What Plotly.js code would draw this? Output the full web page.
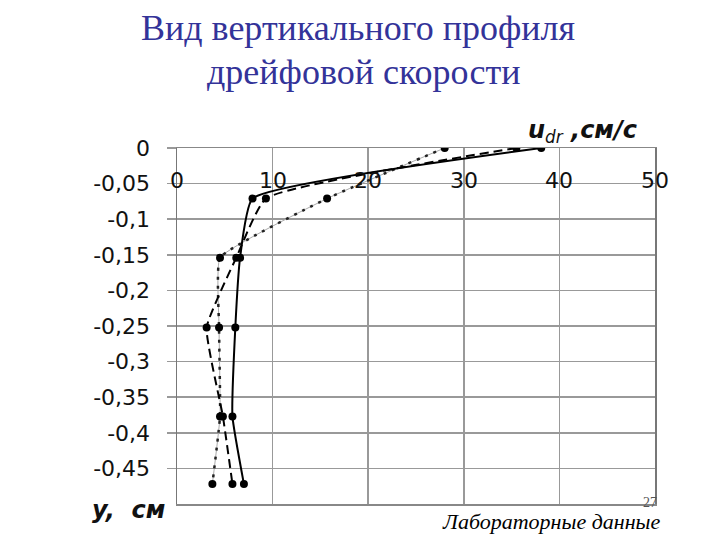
<!DOCTYPE html>
<html>
<head>
<meta charset="utf-8">
<script src="https://cdn.plot.ly/plotly-3.0.1.min.js"></script>
<style>html,body{margin:0;padding:0;background:#fff;}#chart{width:720px;height:540px;}</style>
</head>
<body>
<div id="chart"></div>
<script>
// Depth levels (y, cm)
const depths = [0, -0.071, -0.154, -0.252, -0.377, -0.472];
// Drift velocity profiles u_dr (cm/s)
const solidSeries  = [38.1, 7.9, 6.6, 6.1, 5.8, 7.0];
const dashedSeries = [35.5, 9.3, 6.2, 3.1, 4.8, 5.8];
const dottedSeries = [28.0, 15.7, 4.5, 4.4, 4.5, 3.7];
// Axis ticks
const xTickVals = [0, 10, 20, 30, 40, 50];
const xTickLabels = ["0", "10", "20", "30", "40", "50"];
const yTickVals = [0, -0.05, -0.1, -0.15, -0.2, -0.25, -0.3, -0.35, -0.4, -0.45];
const yTickLabels = ["0", "-0,05", "-0,1", "-0,15", "-0,2", "-0,25", "-0,3", "-0,35", "-0,4", "-0,45"];
// Texts
const titleLines = ["Вид вертикального профиля", "дрейфовой скорости"];

const mk = {color: '#000', size: 8, symbol: 'circle'};
const traces = [
  {x: dottedSeries, y: depths, mode: 'lines', hoverinfo: 'skip',
   line: {color: '#aaa', width: 1, shape: 'spline', smoothing: 0.35}},
  {x: dottedSeries, y: depths, mode: 'lines+markers', marker: mk,
   line: {color: '#222', width: 2.5, dash: '3px,6px', shape: 'spline', smoothing: 0.35}},
  {x: dashedSeries, y: depths, mode: 'lines+markers', marker: mk,
   line: {color: '#000', width: 2, dash: '9px,5px', shape: 'spline', smoothing: 0.4}},
  {x: solidSeries, y: depths, mode: 'lines+markers', marker: mk,
   line: {color: '#000', width: 2, shape: 'spline', smoothing: 0.4}}
];

const tickFont = {family: 'DejaVu Sans, Verdana, sans-serif', size: 22, color: '#111'};
const labelFont = {family: 'DejaVu Sans, Verdana, sans-serif', size: 24, color: '#111'};
const titleFont = {family: 'Liberation Serif, Times New Roman, serif', size: 36, color: '#333399'};
const annotations = xTickVals.map((v, i) => ({
  x: v, xref: 'x', y: 0.91, yref: 'paper', text: xTickLabels[i],
  showarrow: false, xanchor: 'center', yanchor: 'middle', font: tickFont
}));
annotations.push(
  {x: 0.379, xref: 'paper', y: 1.337, yref: 'paper', xanchor: 'center', yanchor: 'middle', showarrow: false,
   text: titleLines[0], font: titleFont},
  {x: 0.39, xref: 'paper', y: 1.213, yref: 'paper', xanchor: 'center', yanchor: 'middle', showarrow: false,
   text: titleLines[1], font: titleFont},
  {x: 0.967, xref: 'paper', y: 1.045, yref: 'paper', xanchor: 'right', yanchor: 'middle', showarrow: false,
   text: '<b><i>u</i></b><sub><i>dr</i></sub><b><i> ,см/с</i></b>', font: labelFont},
  {x: -0.02, xref: 'paper', y: -0.017, yref: 'paper', xanchor: 'right', yanchor: 'middle', showarrow: false,
   text: '<b><i>y,  см</i></b>', font: labelFont},
  {x: 1.015, xref: 'paper', y: -0.05, yref: 'paper', xanchor: 'right', yanchor: 'middle', showarrow: false,
   text: '<i>Лабораторные данные</i>',
   font: {family: 'Liberation Serif, Times New Roman, serif', size: 22, color: '#000'}},
  {x: 0.99, xref: 'paper', y: 0.003, yref: 'paper', xanchor: 'center', yanchor: 'middle', showarrow: false,
   text: '27',
   font: {family: 'Liberation Serif, Times New Roman, serif', size: 14, color: '#555'}}
);

const layout = {
  width: 720, height: 540,
  margin: {l: 177, r: 65, t: 148, b: 36, pad: 0},
  paper_bgcolor: '#fff', plot_bgcolor: '#fff',
  showlegend: false,
  xaxis: {range: [0, 50], side: 'top', tickvals: xTickVals, showticklabels: false,
          showgrid: true, gridcolor: '#999', gridwidth: 1.5, zeroline: false,
          showline: true, linecolor: '#888', linewidth: 1.5, mirror: true, ticks: '', fixedrange: true},
  yaxis: {range: [-0.5, 0], tickvals: yTickVals, ticktext: yTickLabels, tickfont: tickFont,
          showgrid: true, gridcolor: '#999', gridwidth: 1.5, zeroline: false,
          showline: true, linecolor: '#777', linewidth: 1.5, mirror: true,
          ticks: 'outside', ticklen: 9, tickcolor: '#999', tickwidth: 1.5, ticklabelstandoff: 12, fixedrange: true},
  annotations: annotations
};

Plotly.newPlot('chart', traces, layout, {staticPlot: true, displayModeBar: false});
</script>
</body>
</html>
